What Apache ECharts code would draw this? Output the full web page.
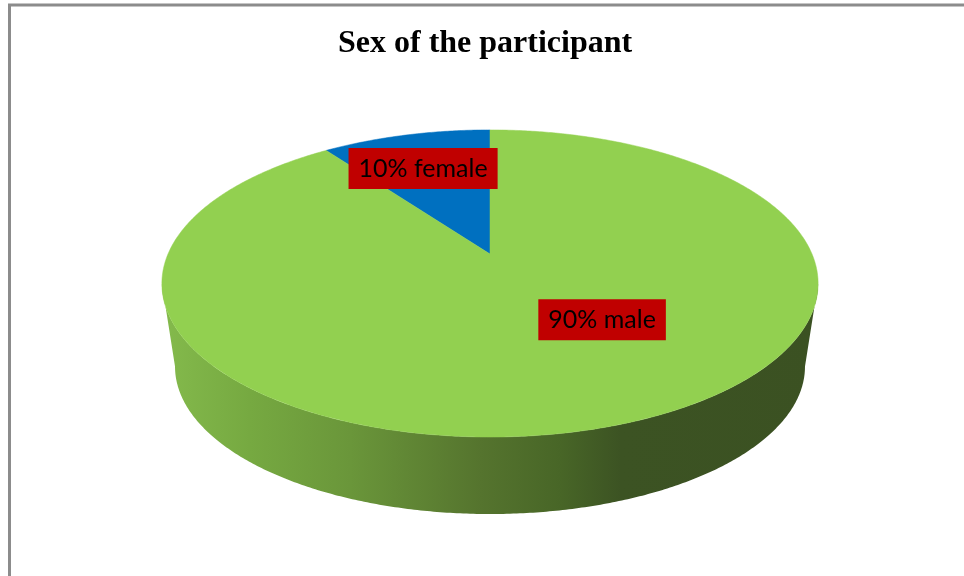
<!DOCTYPE html>
<html><head><meta charset="utf-8">
<script src="https://cdn.jsdelivr.net/npm/echarts@6/dist/echarts.min.js"></script>
<style>html,body{margin:0;padding:0;background:#fff}#c{width:964px;height:576px}</style>
</head><body><div id="c"></div>
<script>
// ---- data ----
const chartTitle = 'Sex of the participant';
const categories = ['female', 'male'];
const values = [10, 90];
const labelTexts = ['10% female', '90% male'];

// ---- style ----
const sliceColors = ['#0070C0', '#92D050'];
const sideStops = [
  [[0,'#2a6fa8'],[1,'#0a3055']],
  [[0,'#84ba4c'],[0.134,'#76a941'],[0.287,'#6a963a'],[0.485,'#55742e'],[0.607,'#486627'],[0.70,'#3c5323'],[1,'#3b5122']]
];
const labelSpots = [{frac:0.55, r:0.69}, {frac:0.562, r:0.52}];

// projection of the disk (simple perspective)
const CX = 490, CY = 254, A = 322, B = 147.9, P = 0.192;
const K = 0.96, CYB = 338.3;
function proj(u, v, bottom) {
  const w = 1 - P * v;
  if (!bottom) return [CX + A * u / w, CY + B * v / w];
  return [CX + K * A * u / w, CYB + K * B * v / w];
}

const total = values.reduce((a, b) => a + b, 0);
const starts = []; let acc = 0;
values.forEach(v => { starts.push(acc); acc += v; });
const seriesData = values.map((v, i) => ({ name: categories[i], value: [starts[i], starts[i] + v, v] }));

const phiL = Math.acos(-P) * 180 / Math.PI;
const tL = total * phiL / 360, tR = total * (360 - phiL) / 360;

function renderItem(params, api) {
  const i = params.dataIndex;
  const s = api.value(0), e = api.value(1);
  const c = api.coord([0, 0]);
  const r1 = api.coord([1, 0]);
  const R = Math.hypot(r1[0] - c[0], r1[1] - c[1]);
  const unit = t => { const p = api.coord([1, t]); return [(p[0] - c[0]) / R, (p[1] - c[1]) / R]; };
  const at = (t, rr, bottom) => { const q = unit(t); return proj(q[0] * rr, q[1] * rr, bottom); };
  const arc = (a, b, bottom) => {
    const n = Math.max(2, Math.ceil(Math.abs(b - a) / total * 720));
    const pts = [];
    for (let k = 0; k <= n; k++) pts.push(at(a + (b - a) * k / n, 1, bottom));
    return pts;
  };
  const children = [];
  const topPts = [proj(0, 0, false)].concat(arc(s, e, false));
  children.push({ type: 'polygon', shape: { points: topPts }, style: { fill: sliceColors[i], stroke: sliceColors[i], lineWidth: 0.5 }, z2: 2 });
  const a0 = Math.max(s, tL), a1 = Math.min(e, tR);
  if (a1 > a0) {
    const pts = arc(a0, a1, false).concat(arc(a0, a1, true).reverse());
    children.push({
      type: 'polygon', shape: { points: pts },
      style: { fill: { type: 'linear', x: 162, y: 0, x2: 818, y2: 0, global: true,
        colorStops: sideStops[i].map(st => ({ offset: st[0], color: st[1] })) } },
      z2: 1
    });
  }
  const sp = labelSpots[i];
  const lp = at(s + (e - s) * sp.frac, sp.r, false);
  children.push({
    type: 'text', x: lp[0], y: lp[1], z2: 10,
    style: { text: labelTexts[i], font: '25px Lato', fill: '#000', backgroundColor: '#C00000',
      padding: [8, 10, 8, 10], align: 'center', verticalAlign: 'middle' }
  });
  return { type: 'group', children };
}

const chart = echarts.init(document.getElementById('c'));
chart.setOption({
  animation: false,
  title: { text: chartTitle, left: 338, top: 28, padding: 0,
    textStyle: { fontFamily: '"Liberation Serif"', fontWeight: 'bold', fontSize: 32, color: '#000' } },
  polar: { center: ['50%', '50%'], radius: 100 },
  angleAxis: { type: 'value', min: 0, max: total, startAngle: 90, clockwise: false, show: false },
  radiusAxis: { type: 'value', min: 0, max: 1, show: false },
  graphic: [{ type: 'rect', shape: { x: 9.5, y: 5, width: 1200, height: 900 }, style: { fill: 'none', stroke: '#8c8c8c', lineWidth: 3 }, z: -10 }],
  series: [{ type: 'custom', coordinateSystem: 'polar', data: seriesData, renderItem: renderItem }]
});
</script></body></html>
